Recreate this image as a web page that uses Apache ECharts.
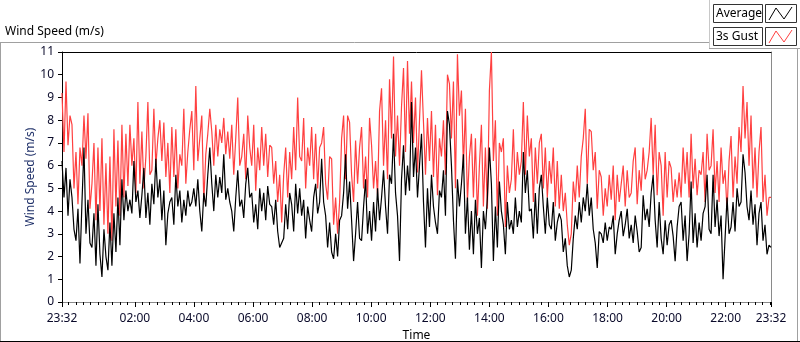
<!DOCTYPE html>
<html>
<head>
<meta charset="utf-8">
<script src="https://cdn.jsdelivr.net/npm/echarts@6.0.0/dist/echarts.min.js"></script>
<style>
  html, body { margin: 0; padding: 0; background: #fff; }
  #chart { width: 800px; height: 342px; }
</style>
</head>
<body>
<div id="chart"></div>
<script>
// time axis in minutes from midnight of the first day (23:32 -> 23:32 next day)
var startMin = 23 * 60 + 32;
var endMin = startMin + 24 * 60;
var labelTimes = [1412, 1560, 1680, 1800, 1920, 2040, 2160, 2280, 2400, 2520, 2640, 2760, 2852];
var yTicks = [0, 1, 2, 3, 4, 5, 6, 7, 8, 9, 10, 11];

// 3s gust (red), ~4 min apart
var gust = [
  9.2, 6.6, 9.7, 6.9, 8.2, 7.8, 5.0, 6.6, 4.3, 6.8, 6.0, 8.2, 6.3, 8.3, 4.1, 5.2, 7.0, 3.6, 6.8, 4.0,
  7.2, 3.4, 6.1, 3.0, 6.4, 2.7, 7.6, 4.2, 7.1, 3.8, 7.8, 4.6, 7.4, 5.1, 7.8, 6.0, 7.2, 4.8, 8.8, 5.2,
  7.5, 5.0, 6.4, 8.8, 5.6, 5.8, 8.5, 6.0, 7.2, 8.0, 6.2, 7.9, 5.5, 7.0, 4.8, 7.7, 5.5, 7.6, 5.0, 6.5,
  6.0, 8.5, 5.2, 6.6, 7.6, 8.4, 5.8, 9.5, 6.2, 7.2, 8.2, 4.4, 6.5, 7.4, 8.5, 7.5, 6.0, 7.8, 6.4, 7.6,
  7.0, 8.1, 6.5, 7.5, 6.3, 7.8, 5.6, 7.2, 9.0, 6.0, 6.4, 7.4, 5.4, 8.2, 6.8, 6.0, 7.8, 4.9, 6.8, 5.8,
  7.7, 6.0, 7.4, 5.5, 6.9, 6.8, 5.2, 6.2, 4.4, 5.6, 3.5, 5.6, 6.8, 4.6, 6.6, 5.4, 7.7, 5.8, 9.0, 6.4,
  6.2, 8.1, 5.0, 6.8, 6.0, 7.7, 5.4, 7.4, 5.0, 6.8, 7.0, 7.7, 5.2, 4.5, 6.4, 6.3, 3.4, 4.6, 3.0, 4.4,
  7.2, 8.2, 5.4, 8.2, 7.9, 5.6, 4.4, 7.1, 5.2, 6.8, 7.7, 5.0, 6.4, 4.6, 8.1, 6.9, 5.0, 6.2, 4.7, 8.4,
  9.4, 6.0, 8.0, 5.4, 9.8, 7.2, 10.8, 6.4, 8.2, 6.0, 8.6, 10.3, 6.6, 10.6, 7.4, 9.7, 7.0, 9.0, 5.7, 8.0,
  10.2, 7.9, 5.6, 8.1, 6.2, 8.4, 5.5, 7.8, 4.7, 7.2, 6.4, 8.0, 5.6, 10.0, 9.6, 7.2, 9.7, 5.0, 10.9, 8.2,
  9.3, 6.0, 8.5, 4.4, 6.4, 7.4, 4.6, 7.2, 3.8, 6.0, 7.8, 4.2, 6.8, 4.1, 9.3, 11.0, 6.2, 8.0, 3.8, 7.0,
  6.6, 7.2, 3.3, 6.0, 4.8, 5.4, 7.6, 4.9, 6.6, 5.6, 6.2, 8.8, 5.6, 8.2, 6.4, 7.2, 4.4, 6.8, 5.2, 7.0,
  7.4, 5.0, 6.8, 4.6, 6.2, 5.2, 6.8, 4.2, 6.2, 4.1, 5.6, 4.0, 4.8, 3.4, 2.5, 3.0, 5.3, 4.4, 6.0, 4.6,
  6.4, 7.2, 8.5, 5.2, 7.6, 7.5, 5.8, 6.6, 4.1, 5.8, 5.5, 3.8, 5.0, 4.2, 5.6, 4.5, 6.0, 3.6, 5.6, 4.4,
  5.2, 6.0, 4.2, 5.8, 4.6, 4.8, 6.2, 6.8, 4.3, 5.8, 4.9, 6.8, 5.4, 5.8, 6.6, 8.1, 5.6, 7.8, 4.7, 6.6,
  6.0, 3.8, 6.6, 4.6, 6.2, 5.9, 4.4, 5.4, 4.6, 5.7, 4.6, 6.8, 5.2, 6.6, 4.6, 7.4, 5.0, 6.3, 4.7, 5.8,
  5.6, 6.6, 4.4, 7.4, 5.8, 6.0, 7.6, 4.8, 6.2, 4.4, 6.8, 5.2, 5.8, 4.0, 6.2, 7.3, 4.6, 6.4, 5.2, 7.7,
  6.6, 9.5, 7.2, 8.8, 6.0, 8.2, 5.0, 6.8, 4.6, 6.6, 7.7, 4.4, 5.6, 3.8, 4.6, 4.6
];

// average (black)
var average = [
  6.2, 4.6, 5.9, 3.8, 5.4, 4.6, 3.2, 2.7, 4.1, 1.7, 4.4, 6.8, 3.0, 4.5, 2.6, 2.4, 3.9, 1.6, 4.3, 2.1,
  1.1, 3.2, 2.0, 1.4, 3.5, 1.6, 3.9, 2.2, 4.6, 2.5, 5.4, 3.6, 4.9, 4.0, 4.5, 3.9, 6.2, 4.4, 4.9, 3.7,
  4.7, 5.9, 3.7, 4.8, 3.4, 5.2, 4.3, 6.3, 4.6, 5.4, 3.6, 4.9, 2.5, 3.9, 4.4, 4.6, 3.4, 5.6, 4.2, 4.9,
  3.5, 4.5, 3.8, 4.9, 4.2, 4.4, 5.0, 4.2, 5.4, 4.0, 3.1, 4.8, 4.2, 5.6, 6.8, 5.2, 4.0, 5.6, 4.6, 5.5,
  4.8, 6.5, 4.5, 5.0, 4.4, 4.0, 3.1, 4.6, 5.8, 4.2, 4.5, 3.7, 5.2, 5.9, 4.6, 4.8, 3.5, 4.3, 3.2, 5.0,
  4.0, 4.8, 3.6, 5.1, 4.3, 4.2, 3.4, 4.5, 3.1, 2.4, 2.4, 2.8, 4.3, 3.2, 4.8, 4.3, 3.1, 5.2, 3.9, 5.0,
  3.8, 4.5, 2.8, 4.2, 3.6, 3.1, 4.6, 5.2, 3.9, 4.4, 6.3, 4.4, 3.8, 2.4, 3.5, 2.2, 1.9, 3.0, 2.0, 3.6,
  3.8, 4.8, 6.5, 4.1, 5.3, 3.6, 1.8, 3.0, 4.4, 2.8, 2.7, 4.2, 5.4, 3.0, 4.0, 2.7, 4.4, 3.1, 5.0, 3.6,
  4.6, 5.8, 4.2, 3.0, 5.6, 5.2, 7.4, 4.8, 3.8, 1.8, 5.4, 6.9, 4.7, 6.0, 4.9, 8.8, 5.5, 6.8, 4.6, 6.0,
  7.4, 4.4, 2.4, 5.0, 3.3, 5.6, 4.2, 3.5, 3.0, 4.9, 4.6, 5.8, 3.8, 8.4, 7.8, 6.0, 3.6, 1.9, 5.4, 4.2,
  5.2, 6.5, 3.0, 4.6, 2.3, 4.0, 2.1, 4.5, 3.0, 3.7, 1.5, 4.0, 3.2, 4.6, 6.8, 5.2, 1.8, 4.2, 2.4, 5.3,
  4.0, 3.4, 2.1, 4.4, 3.2, 3.6, 3.0, 4.6, 3.3, 4.0, 3.5, 6.6, 4.8, 5.8, 4.0, 4.1, 2.8, 4.8, 3.0, 5.0,
  5.6, 4.2, 3.0, 4.6, 3.4, 3.2, 4.4, 2.7, 3.5, 3.9, 3.6, 2.2, 2.8, 1.6, 1.1, 1.4, 2.8, 3.8, 3.2, 4.4,
  3.5, 4.6, 4.0, 5.2, 3.8, 4.6, 3.2, 2.6, 1.5, 3.1, 3.0, 2.6, 3.5, 2.7, 3.3, 3.2, 3.8, 2.1, 3.0, 3.6,
  4.0, 2.9, 3.4, 4.1, 2.8, 3.4, 2.6, 3.8, 3.1, 2.2, 2.4, 4.7, 3.6, 4.1, 3.3, 4.8, 5.6, 3.6, 2.4, 4.4,
  2.8, 2.1, 3.6, 2.5, 3.4, 3.6, 2.9, 1.8, 3.3, 4.2, 4.4, 2.7, 3.8, 1.8, 3.0, 5.3, 2.6, 3.9, 2.4, 3.5,
  2.7, 3.9, 4.2, 5.6, 3.2, 3.0, 5.6, 3.3, 4.5, 2.9, 3.8, 1.0, 2.8, 4.6, 3.0, 3.3, 4.4, 3.1, 5.0, 4.2,
  4.4, 6.5, 5.7, 4.2, 3.6, 4.9, 3.4, 4.3, 2.5, 3.9, 4.4, 2.7, 3.4, 2.1, 2.5, 2.4
];

// sample times, evenly spread over the 24 h window
var times = [];
for (var i = 0; i < gust.length; i++) {
  times.push(startMin + (i * (endMin - startMin)) / (gust.length - 1));
}
function pairs(vals) {
  var out = [];
  for (var i = 0; i < vals.length; i++) out.push([times[i], vals[i]]);
  return out;
}

var minorTicks = [];
for (var m = 1425; m < endMin; m += 15) minorTicks.push(m);

function fmtTime(v) {
  var t = Math.round(v) % 1440;
  var h = Math.floor(t / 60), mm = t % 60;
  return (h < 10 ? "0" : "") + h + ":" + (mm < 10 ? "0" : "") + mm;
}

var font = "Noto Sans";
var chartDom = document.getElementById("chart");
var myChart = echarts.init(chartDom, null, { renderer: "canvas" });

var legendRows = [
  { y: 4, name: "Average", color: "#000000" },
  { y: 27, name: "3s Gust", color: "#ff4040" },
];
var legendGraphics = [];
legendRows.forEach(function (r) {
  legendGraphics.push({
    type: "rect",
    shape: { x: 713.5, y: r.y + 0.5, width: 49, height: 18 },
    style: { fill: "#fff", stroke: "#333", lineWidth: 1 },
  });
  legendGraphics.push({
    type: "text",
    x: 716, y: r.y + 10,
    style: { text: r.name, font: "12px " + font, fill: "#000", verticalAlign: "middle" },
  });
  legendGraphics.push({
    type: "rect",
    shape: { x: 765.5, y: r.y + 0.5, width: 31, height: 18 },
    style: { fill: "#fff", stroke: "#333", lineWidth: 1 },
  });
  legendGraphics.push({
    type: "polyline",
    shape: { points: [[769, r.y + 16], [776, r.y + 4], [784, r.y + 15], [792, r.y + 3]] },
    style: { stroke: r.color, lineWidth: 1, fill: null },
  });
});

var option = {
  animation: false,
  backgroundColor: "#fff",
  textStyle: { fontFamily: font },
  grid: { left: 62, right: 29, top: 52, bottom: 40, containLabel: false, outerBoundsMode: "none" },
  xAxis: [
    {
      type: "value",
      min: startMin,
      max: endMin,
      name: "Time",
      nameLocation: "middle",
      nameGap: 28,
      nameMoveOverlap: false,
      nameTextStyle: { color: "#000", fontSize: 12, fontFamily: font },
      axisLine: { show: true, lineStyle: { color: "#8a8a8a", width: 1 } },
      axisTick: { show: true, length: 5, customValues: labelTimes, lineStyle: { color: "#000" } },
      axisLabel: {
        customValues: labelTimes,
        formatter: fmtTime,
        color: "#0a0a2a",
        fontSize: 12,
        fontFamily: font,
        margin: 11,
        showMinLabel: true,
        showMaxLabel: true,
      },
      splitLine: { show: false },
    },
    {
      type: "value",
      position: "bottom",
      min: startMin,
      max: endMin,
      axisLine: { show: true, lineStyle: { color: "#8a8a8a", width: 1 } },
      axisTick: { show: true, length: 3, customValues: minorTicks, lineStyle: { color: "#000" } },
      axisLabel: { show: false },
      splitLine: { show: false },
    },
    {
      type: "value",
      position: "top",
      min: startMin,
      max: endMin,
      axisLine: { show: true, lineStyle: { color: "#000", width: 1 } },
      axisTick: { show: false },
      axisLabel: { show: false },
      splitLine: { show: false },
    },
  ],
  yAxis: [
    {
      type: "value",
      min: 0,
      max: 11,
      interval: 1,
      name: "Wind Speed (m/s)",
      nameLocation: "middle",
      nameGap: 25,
      nameMoveOverlap: false,
      nameTextStyle: { color: "#22336b", fontSize: 12, fontFamily: font },
      axisLine: { show: true, lineStyle: { color: "#000", width: 1 } },
      axisTick: { show: true, length: 4, lineStyle: { color: "#000" } },
      axisLabel: { color: "#0a0a2a", fontSize: 12, fontFamily: font, margin: 8 },
      splitLine: { show: false },
    },
    {
      type: "value",
      position: "right",
      min: 0,
      max: 11,
      axisLine: { show: true, lineStyle: { color: "#8a8a8a", width: 1 } },
      axisTick: { show: false },
      axisLabel: { show: false },
      splitLine: { show: false },
    },
  ],
  series: [
    {
      name: "3s Gust",
      type: "line",
      data: pairs(gust),
      showSymbol: false,
      lineStyle: { color: "#ff4040", width: 1.2 },
      itemStyle: { color: "#ff4040" },
      z: 2,
    },
    {
      name: "Average",
      type: "line",
      data: pairs(average),
      showSymbol: false,
      lineStyle: { color: "#000", width: 1.2 },
      itemStyle: { color: "#000" },
      z: 3,
    },
  ],
  graphic: [
    { type: "line", shape: { x1: 0, y1: 42.5, x2: 709, y2: 42.5 }, style: { stroke: "#a0a0a0", lineWidth: 1 } },
    { type: "line", shape: { x1: 709.5, y1: 0, x2: 709.5, y2: 48 }, style: { stroke: "#c8c8c8", lineWidth: 1 } },
    { type: "line", shape: { x1: 709, y1: 48.5, x2: 800, y2: 48.5 }, style: { stroke: "#a0a0a0", lineWidth: 1 } },
    { type: "line", shape: { x1: 0.5, y1: 42, x2: 0.5, y2: 341 }, style: { stroke: "#a0a0a0", lineWidth: 1 } },
    { type: "line", shape: { x1: 797.5, y1: 48, x2: 797.5, y2: 341 }, style: { stroke: "#a0a0a0", lineWidth: 1 } },
    { type: "line", shape: { x1: 0, y1: 341.5, x2: 800, y2: 341.5 }, style: { stroke: "#000", lineWidth: 1 } },
    {
      type: "text",
      x: 5, y: 32,
      style: { text: "Wind Speed (m/s)", font: "12px " + font, fill: "#000", verticalAlign: "middle" },
    },
  ].concat(legendGraphics),
};

myChart.setOption(option);
</script>
</body>
</html>
